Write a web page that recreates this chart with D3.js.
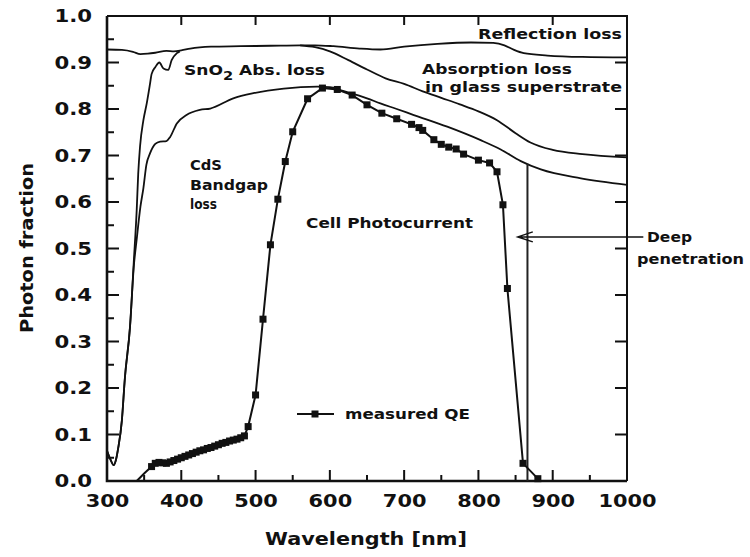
<!DOCTYPE html>
<html>
<head>
<meta charset="utf-8">
<script src="https://cdn.jsdelivr.net/npm/d3@7"></script>
<style>
  html, body { margin: 0; padding: 0; background: #fff; }
  svg { display: block; }
  text { font-family: 'DejaVu Sans', Verdana, sans-serif; font-weight: bold; fill: #111; }
</style>
</head>
<body>
<svg id="chart" width="750" height="557"></svg>
<script>
// ---- data: wavelength [nm], photon fraction ----
// boundary after reflection loss
const reflectionEdge = [
  [300,0.928],[320,0.927],[335,0.923],[345,0.918],[355,0.919],[365,0.921],[380,0.925],
  [390,0.924],[400,0.926],[412,0.930],[440,0.934],[480,0.935],[520,0.936],[560,0.937],
  [580,0.937],[605,0.935],[640,0.930],[668,0.928],[700,0.934],[745,0.940],[790,0.943],
  [820,0.942],[835,0.937],[848,0.927],[861,0.920],[893,0.915],[940,0.912],[1000,0.911]
];
// boundary after absorption in the glass superstrate
const glassEdge = [
  [560,0.937],[580,0.933],[600,0.924],[625,0.905],[650,0.885],[675,0.866],[700,0.854],
  [725,0.838],[750,0.824],[775,0.810],[800,0.795],[825,0.776],[850,0.748],[870,0.728],
  [900,0.712],[940,0.703],[1000,0.696]
];
// boundary after SnO2 absorption (short-wavelength side)
const sno2Edge = [
  [300,0.065],[305,0.045],[309,0.034],[312,0.045],[315,0.070],[320,0.130],[324,0.220],
  [331,0.332],[336,0.470],[340,0.583],[342,0.660],[344.5,0.720],[349,0.776],[353.5,0.812],
  [358,0.855],[360,0.875],[365,0.890],[370.5,0.900],[376,0.887],[382.5,0.884],[387,0.905],
  [394,0.920],[398,0.924]
];
// boundary after CdS bandgap absorption
const cdsEdge = [
  [300,0.065],[305,0.045],[309,0.034],[312,0.045],[315,0.070],[320,0.130],[324,0.220],
  [331,0.332],[336,0.460],[340,0.520],[345,0.590],[349,0.630],[353,0.680],[358,0.705],
  [365,0.725],[371.5,0.730],[380,0.731],[385,0.740],[394,0.769],[407,0.787],[425,0.798],
  [439,0.801],[470,0.823],[497,0.834],[538,0.844],[583,0.848],[600,0.847],[615,0.840],
  [650,0.823],[668,0.812],[690,0.800],[713,0.787],[758,0.762],[803,0.733],[830,0.713],
  [857,0.688],[884,0.670],[938,0.651],[1000,0.637]
];
// measured quantum efficiency
const qeWavelength = [
  340,350,360,365,370,375,380,385,390,395,400,405,410,415,420,425,430,435,440,445,450,
  455,460,465,470,475,480,485,490,500,510,520,530,540,550,570,590,610,630,650,670,690,
  710,720,725,740,750,760,770,780,800,815,825,833,839,860,880
];
const qeValue = [
  0.000,0.016,0.031,0.038,0.040,0.039,0.038,0.041,0.044,0.047,0.050,0.053,0.056,0.059,
  0.062,0.065,0.067,0.070,0.072,0.075,0.078,0.081,0.083,0.086,0.088,0.090,0.093,0.097,
  0.117,0.185,0.348,0.508,0.606,0.687,0.751,0.822,0.845,0.842,0.830,0.809,0.791,0.779,
  0.767,0.760,0.754,0.734,0.724,0.718,0.714,0.703,0.690,0.684,0.665,0.594,0.414,0.038,0.005
];
const qeMarkerFrom = 360;          // first measured point drawn with a marker
const deepPenetrationNm = 866;     // wavelength of the "deep penetration" guide
const arrowValue = 0.525;          // height of the annotation arrow
const arrowTipNm = 853;

// ticks
const xMajor = [300,400,500,600,700,800,900,1000];
const xMinor = [350,450,550,650,750,850,950];
const yMajor = [0.0,0.1,0.2,0.3,0.4,0.5,0.6,0.7,0.8,0.9,1.0];
const yMinor = [0.05,0.15,0.25,0.35,0.45,0.55,0.65,0.75,0.85,0.95];

// ---- layout ----
const svg = d3.select("#chart");
const mLeft = 107, mRight = 627, mTop = 16, mBottom = 481;
const x = d3.scaleLinear().domain([300,1000]).range([mLeft,mRight]);
const y = d3.scaleLinear().domain([0,1]).range([mBottom,mTop]);
const ink = "#111";

function stretch(sel, factor) {
  sel.each(function () {
    const w = this.getComputedTextLength();
    d3.select(this).attr("textLength", w * factor).attr("lengthAdjust", "spacingAndGlyphs");
  });
}

// tick labels through d3 axes
const gB = svg.append("g").attr("transform", `translate(0,${mBottom})`)
  .call(d3.axisBottom(x).tickValues(xMajor).tickSize(0).tickPadding(13).tickFormat(d3.format("d")));
gB.select(".domain").remove();
gB.selectAll("text").attr("font-size", 18).attr("fill", ink).attr("dy", "0.71em").call(stretch, 1.16);

const gL = svg.append("g").attr("transform", `translate(${mLeft},0)`)
  .call(d3.axisLeft(y).tickValues(yMajor).tickSize(0).tickPadding(15).tickFormat(d3.format(".1f")));
gL.select(".domain").remove();
gL.selectAll("text").attr("font-size", 18).attr("fill", ink).call(stretch, 1.18);

// inward tick marks on all four sides, collected into one path
const tp = d3.path();
const xTicks = (vals, yy, len) => vals.forEach(v => { tp.moveTo(x(v), yy); tp.lineTo(x(v), yy + len); });
const yTicks = (vals, xx, len) => vals.forEach(v => { tp.moveTo(xx, y(v)); tp.lineTo(xx + len, y(v)); });
xTicks(xMajor, mBottom, -11);
xTicks(xMinor, mBottom, -6);
xTicks(xMajor.slice(1, -1), mTop, 9);
yTicks(yMajor, mLeft, 12);
yTicks(yMinor, mLeft, 7);
yTicks(yMajor.slice(1, -1), mRight, -12);
svg.append("path").attr("d", tp.toString())
  .attr("fill", "none").attr("stroke", ink).attr("stroke-width", 2);

// frame
svg.append("path")
  .attr("d", `M${mLeft},${mTop}H${mRight}V${mBottom}`)
  .attr("fill", "none").attr("stroke", ink).attr("stroke-width", 2);
svg.append("path")
  .attr("d", `M${mLeft},${mTop}V${mBottom}H${mRight}`)
  .attr("fill", "none").attr("stroke", ink).attr("stroke-width", 2.6);

// loss boundaries
const edge = d3.line().x(d => x(d[0])).y(d => y(d[1])).curve(d3.curveMonotoneX);
[reflectionEdge, glassEdge, sno2Edge, cdsEdge].forEach(c => {
  svg.append("path").attr("d", edge(c)).attr("fill", "none")
    .attr("stroke", ink).attr("stroke-width", 1.8).attr("stroke-linejoin", "round");
});

// deep-penetration guide from the CdS boundary down to the axis
const cdsAt = nm => {
  const i = d3.bisector(d => d[0]).left(cdsEdge, nm);
  const a = cdsEdge[i - 1], b = cdsEdge[i];
  return a[1] + (b[1] - a[1]) * (nm - a[0]) / (b[0] - a[0]);
};
svg.append("path")
  .attr("d", `M${x(deepPenetrationNm)},${y(cdsAt(deepPenetrationNm))}V${y(0)}`)
  .attr("fill", "none").attr("stroke", "#222").attr("stroke-width", 2);

// arrow
const ay = y(arrowValue), ax = x(arrowTipNm);
svg.append("path").attr("d", `M${x(1022)},${ay}H${ax}M${ax + 15},${ay - 5}L${ax},${ay}L${ax + 15},${ay + 5}`)
  .attr("fill", "none").attr("stroke", ink).attr("stroke-width", 1.5);

// measured QE
const qe = qeWavelength.map((w, i) => [w, qeValue[i]]);
svg.append("path")
  .attr("d", d3.line().x(d => x(d[0])).y(d => y(d[1]))(qe))
  .attr("fill", "none").attr("stroke", ink).attr("stroke-width", 2);
const m = 7;
svg.append("g").selectAll("rect").data(qe.filter(d => d[0] >= qeMarkerFrom)).join("rect")
  .attr("x", d => x(d[0]) - m / 2).attr("y", d => y(d[1]) - m / 2)
  .attr("width", m).attr("height", m).attr("fill", ink);

// legend
svg.append("path").attr("d", "M297,414H334").attr("stroke", ink).attr("stroke-width", 2);
svg.append("rect").attr("x", 315 - m / 2).attr("y", 414 - m / 2).attr("width", m).attr("height", m).attr("fill", ink);

// annotations
function note(txt, px, py, width, anchor) {
  return svg.append("text").attr("x", px).attr("y", py).attr("font-size", 14)
    .attr("text-anchor", anchor || "start")
    .attr("textLength", width).attr("lengthAdjust", "spacingAndGlyphs").text(txt);
}
note("Reflection loss", 622, 38.5, 144, "end");
note("Absorption loss", 422, 74, 150);
note("in glass superstrate", 425, 92, 197);
const sn = svg.append("text").attr("x", 184).attr("y", 75).attr("font-size", 14)
  .attr("textLength", 141).attr("lengthAdjust", "spacingAndGlyphs");
sn.append("tspan").text("SnO");
sn.append("tspan").attr("dy", 5).attr("font-size", 12).text("2");
sn.append("tspan").attr("dy", -5).text(" Abs. loss");
note("CdS", 190, 170, 32);
note("Bandgap", 190, 190, 78);
note("loss", 190, 208.5, 27);
note("Cell Photocurrent", 306, 228, 167);
note("measured QE", 345, 419, 125);
note("Deep", 647, 241.5, 45);
note("penetration", 637, 263.5, 107);

// axis titles
svg.append("text").attr("x", 366).attr("y", 545).attr("text-anchor", "middle")
  .attr("font-size", 17.5).attr("textLength", 202).attr("lengthAdjust", "spacingAndGlyphs")
  .text("Wavelength [nm]");
svg.append("text").attr("transform", "translate(33,248) rotate(-90)").attr("text-anchor", "middle")
  .attr("font-size", 17.5).attr("textLength", 170).attr("lengthAdjust", "spacingAndGlyphs")
  .text("Photon fraction");
</script>
</body>
</html>
